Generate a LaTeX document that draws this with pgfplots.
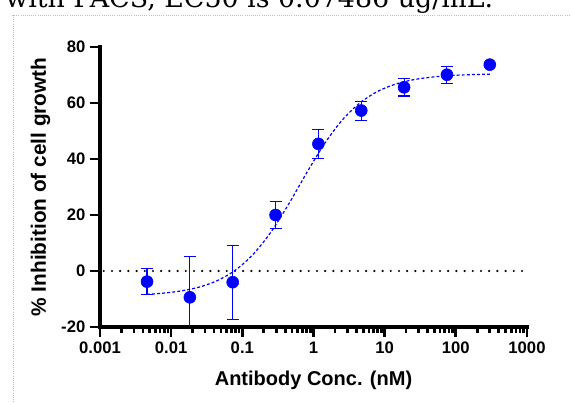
\documentclass[border=0pt]{standalone}
\usepackage{fontspec}
\setmainfont{Liberation Sans}
\newfontfamily\slab{DejaVu Serif}
\usepackage{pgfplots}
\pgfplotsset{compat=1.18}
\definecolor{pblue}{RGB}{0,0,255}
\definecolor{framegray}{RGB}{190,190,190}

\pgfplotstableread{
x          y      err
0.0045776  -3.8   4.6
0.018311   -9.4   14.5
0.073242   -4.0   13.2
0.29297    20.0   4.8
1.1719     45.4   5.1
4.6875     57.3   3.4
18.75      65.6   3.1
75         70.1   3.1
300        73.7   0
}\inhib

\begin{document}
\begin{tikzpicture}
\begin{axis}[
    at={(0,0)}, anchor=south west,
    scale only axis,
    width=320.25pt, height=210pt,
    xmode=log,
    xmin=0.001, xmax=1000,
    ymin=-20, ymax=80,
    axis x line*=bottom, axis y line*=left,
    axis line style={line width=2.6pt, line cap=rect},
    xtick={0.001,0.01,0.1,1,10,100,1000},
    xticklabels={0.001,0.01,0.1,1,10,100,1000},
    ytick={-20,0,20,40,60,80},
    yticklabels={-20,0,20,40,60,80},
    tick align=outside,
    major tick length=7.5pt,
    minor tick length=4.5pt,
    every tick/.style={black, line width=2pt},
    tick label style={font=\bfseries\fontsize{12.5}{14}\selectfont},
    label style={font=\bfseries\fontsize{15}{18}\selectfont},
    ylabel style={font=\bfseries\fontsize{15.6}{18}\selectfont},
    xlabel={Antibody Conc. (nM)},
    ylabel={\% Inhibition of cell growth},
    xlabel style={at={(axis description cs:0.5,-0.189)}, anchor=center},
    ylabel style={at={(axis description cs:-0.139,0.5)}, anchor=center},
]
% zero line
\addplot[black, no marks, line width=1.8pt, line cap=round, dash pattern=on 0pt off 6.15pt]
    coordinates {(0.00113,0) (880,0)};

% fitted curve
\addplot[pblue, smooth, no marks, line width=0.9pt, dash pattern=on 2.2pt off 1.6pt] coordinates {
    (0.004578,-8.35) (0.007943,-7.89) (0.014125,-7.08) (0.025119,-5.71)
    (0.044668,-3.42) (0.079433,0.26) (0.14125,5.89) (0.25119,13.83)
    (0.44668,23.85) (0.79433,34.87) (1.4125,45.27) (2.5119,53.8)
    (4.4668,60.0) (7.9433,64.13) (14.125,66.73) (25.119,68.30)
    (44.668,69.22) (79.433,69.77) (141.25,70.08) (300,70.3)
};

% SD bars first, so that the dots sit on top
\addplot[draw=none, no marks,
    error bars/.cd, y dir=both, y explicit,
    error bar style={line width=0.8pt, pblue},
    error mark options={pblue, line width=0.8pt, mark size=4.5pt, rotate=90}]
    table[x=x, y=y, y error=err] {\inhib};

% means
\addplot[pblue, only marks, mark=*, mark size=4.5pt] table[x=x, y=y] {\inhib};
\end{axis}

\begin{scope}[x=0.75pt, y=-0.75pt, shift={(-100,-327)}]
    \draw[framegray, densely dotted, line width=0.6pt] (12,15) -- (571,15);
    \draw[framegray, densely dotted, line width=0.6pt] (13,15) -- (13,403);
    \node[anchor=base west, inner sep=0pt, font=\slab] at (5,7.3)
        {\resizebox{366pt}{!}{with FACS, EC50 is 0.07486 ug/mL.}};
    \pgfresetboundingbox
    \path[use as bounding box] (0,0) rectangle (571,403);
\end{scope}
\end{tikzpicture}
\end{document}
